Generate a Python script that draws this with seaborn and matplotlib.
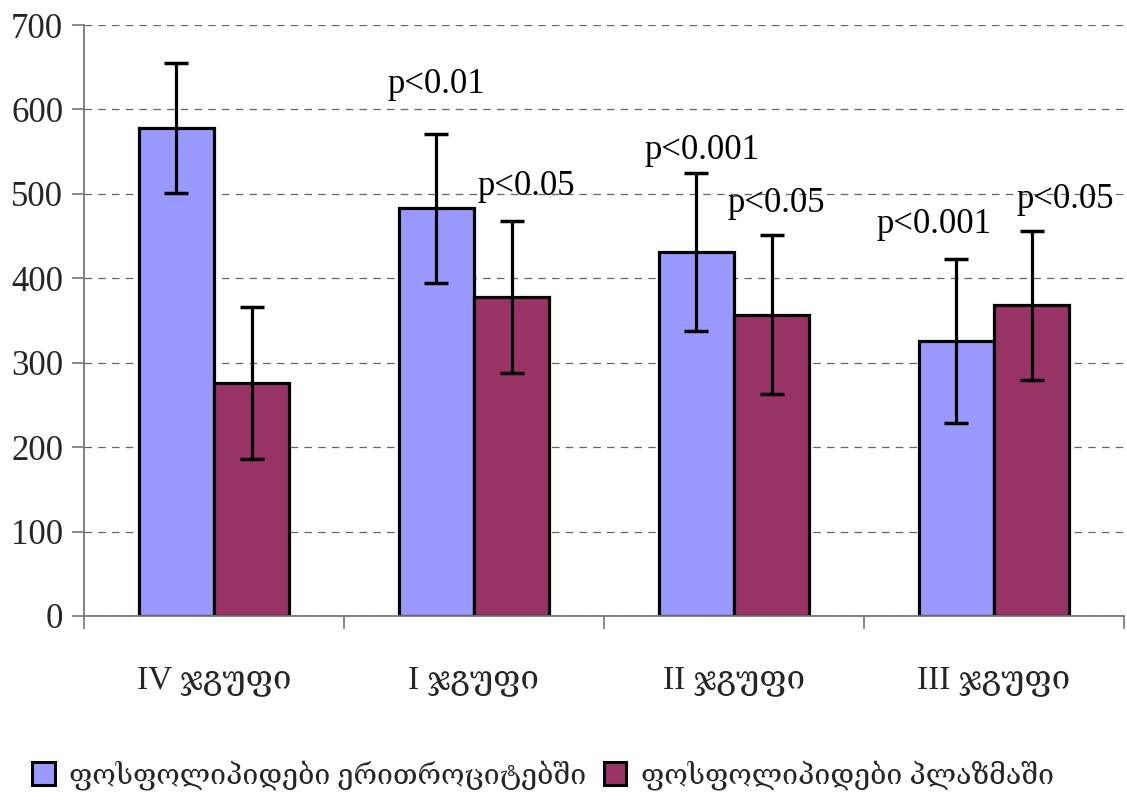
import matplotlib
matplotlib.use("Agg")
import matplotlib.pyplot as plt
import seaborn as sns
import pandas as pd
import numpy as np
from matplotlib.patches import Patch

groups = ["IV ჯგუფი", "I ჯგუფი", "II ჯგუფი", "III ჯგუფი"]
series = ["ფოსფოლიპიდები ერითროციტებში", "ფოსფოლიპიდები პლაზმაში"]
erythro_vals = [578, 483, 431, 326]
erythro_err = [77, 88, 94, 97]
plasma_vals = [276, 378, 357, 368]
plasma_err = [90, 90, 94, 88]
p_labels = ["p<0.01", "p<0.05", "p<0.001", "p<0.05", "p<0.001", "p<0.05"]
p_group = [1, 1, 2, 2, 3, 3]
p_series = [0, 1, 0, 1, 0, 1]
p_dx = [0.0, 0.056, 0.02, 0.02, -0.087, 0.13]
p_y = [630, 509, 551, 488, 464, 493]

colors = ["#9999FF", "#993366"]

sns.set_theme(style="white")
fam = ["Liberation Serif", "DejaVu Serif"]
plt.rcParams["font.family"] = fam

df = pd.DataFrame({
    "group": groups * 2,
    "series": [series[0]] * 4 + [series[1]] * 4,
    "value": erythro_vals + plasma_vals,
})
errs = [erythro_err, plasma_err]
vals = [erythro_vals, plasma_vals]

fig = plt.figure(figsize=(11.27, 8.0), dpi=100)
ax = fig.add_axes([84 / 1127, 184 / 800, 1040 / 1127, 591 / 800])

sns.barplot(data=df, x="group", y="value", hue="series", order=groups,
            hue_order=series, palette=colors, width=0.577, saturation=1,
            edgecolor="black", linewidth=2.3, errorbar=None, legend=False, ax=ax)

bar_conts = list(ax.containers)
centers = {}
for si, cont in enumerate(bar_conts):
    centers[si] = [p.get_x() + p.get_width() / 2 for p in cont.patches]

for si in range(2):
    ax.errorbar(centers[si], vals[si], yerr=errs[si], fmt="none", ecolor="black",
                elinewidth=2.3, capsize=8.5, capthick=2.5, zorder=5)

for lab, g, s, dx, y in zip(p_labels, p_group, p_series, p_dx, p_y):
    ax.text(centers[s][g] + dx, y, lab, ha="center", va="center",
            fontsize=25, family=fam, color="black", zorder=6)

ax.set_ylim(0, 700)
ax.set_xlim(-0.5, 3.5)
ax.set_yticks(np.arange(0, 701, 100))
ax.yaxis.grid(True, linestyle=(0, (6, 5)), color="#666666", linewidth=0.9)
ax.set_axisbelow(True)
ax.set_xlabel("")
ax.set_ylabel("")
for side in ["top", "right"]:
    ax.spines[side].set_visible(False)
for side in ["left", "bottom"]:
    ax.spines[side].set_color("#777777")
    ax.spines[side].set_linewidth(1.3)

ax.tick_params(axis="y", which="major", direction="out", length=9, width=1.2,
               color="#777777", left=True, labelsize=25, pad=6)
ax.set_xticks(np.arange(-0.5, 3.6, 1.0), minor=True)
ax.tick_params(axis="x", which="minor", direction="out", length=9, width=1.2,
               color="#777777", bottom=True)
ax.tick_params(axis="x", which="major", length=0, labelsize=24, pad=36)
for t in ax.get_xticklabels() + ax.get_yticklabels():
    t.set_family(fam)

handles = [Patch(facecolor=c, edgecolor="black", linewidth=2.2) for c in colors]
fig.legend(handles, series, loc="center", bbox_to_anchor=(543 / 1127, 1 - 775 / 800),
           ncol=2, frameon=False, handlelength=0.8, handleheight=0.9,
           handletextpad=0.5, columnspacing=0.6, prop={"family": fam, "size": 20.5})

fig.savefig("out.png", dpi=100)
